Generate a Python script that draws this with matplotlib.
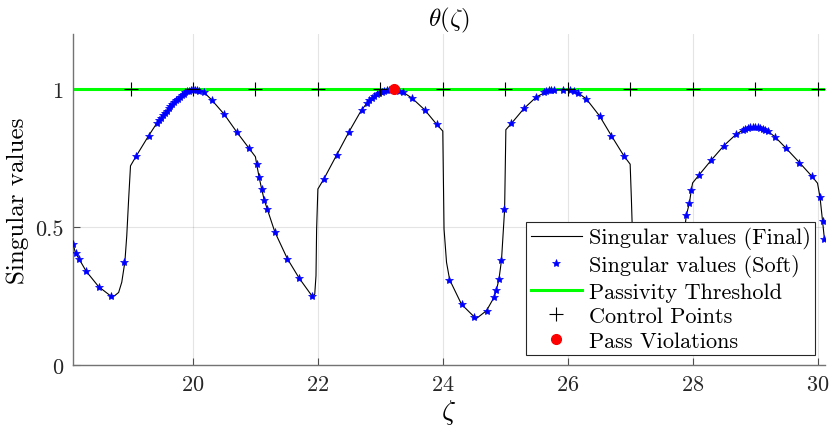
import numpy as np
import matplotlib
matplotlib.use("Agg")
import matplotlib.pyplot as plt

plt.rcParams['font.family'] = 'serif'
plt.rcParams['font.serif'] = ['cmr10']
plt.rcParams['mathtext.fontset'] = 'cm'
plt.rcParams['axes.formatter.use_mathtext'] = True

# final singular values (line)
zeta_final = [18.08, 18.12, 18.17, 18.29, 18.49, 18.69, 18.75, 18.81, 18.86, 18.91, 18.94, 18.97, 19.0,
              19.09, 19.29, 19.42, 19.6, 19.8, 20.0, 20.17, 20.3, 20.5, 20.7, 20.9, 21.0,
              21.02, 21.06, 21.10, 21.14, 21.19, 21.31, 21.51, 21.70, 21.91, 21.95, 21.97, 21.98, 22.0,
              22.10, 22.30, 22.50, 22.70, 22.84, 23.0, 23.22, 23.37, 23.51, 23.71, 23.90, 24.0,
              24.02, 24.06, 24.11, 24.30, 24.51, 24.53, 24.70, 24.82, 24.86, 24.90, 24.94, 24.99, 25.01,
              25.10, 25.30, 25.50, 25.70, 25.90, 26.0, 26.17, 26.30, 26.51, 26.70, 26.90, 27.0,
              27.02, 27.04, 27.10, 27.30, 27.50, 27.70, 27.85, 27.90, 27.95, 27.98, 28.0,
              28.10, 28.30, 28.50, 28.70, 28.85, 28.97, 29.10, 29.20, 29.32, 29.50, 29.71, 29.91, 30.0,
              30.04, 30.08, 30.11]
sv_final = [0.44, 0.405, 0.387, 0.34, 0.284, 0.249, 0.252, 0.263, 0.30, 0.374, 0.468, 0.60, 0.722,
            0.757, 0.831, 0.876, 0.928, 0.974, 0.999, 0.99, 0.961, 0.909, 0.845, 0.785, 0.755,
            0.728, 0.68, 0.638, 0.599, 0.565, 0.483, 0.386, 0.315, 0.249, 0.257, 0.324, 0.493, 0.638,
            0.676, 0.761, 0.846, 0.925, 0.964, 0.99, 1.0, 0.988, 0.967, 0.925, 0.873, 0.848,
            0.493, 0.372, 0.309, 0.22, 0.173, 0.167, 0.197, 0.245, 0.273, 0.312, 0.38, 0.564, 0.853,
            0.876, 0.93, 0.972, 0.995, 0.998, 0.997, 0.986, 0.964, 0.903, 0.831, 0.758, 0.728,
            0.6, 0.45, 0.32, 0.24, 0.21, 0.28, 0.45, 0.543, 0.589, 0.635, 0.66,
            0.688, 0.743, 0.795, 0.837, 0.858, 0.863, 0.858, 0.848, 0.827, 0.785, 0.734, 0.684, 0.659,
            0.608, 0.523, 0.457]

# soft singular values (markers)
zeta_soft = [18.08, 18.12, 18.17, 18.29, 18.49, 18.69, 18.89,
             19.09, 19.29, 19.42, 19.46, 19.49, 19.52, 19.55, 19.58, 19.61, 19.64, 19.67, 19.70,
             19.73, 19.76, 19.79, 19.82, 19.85, 19.88, 19.91, 19.94, 19.97, 20.00, 20.03, 20.06,
             20.10, 20.17, 20.30, 20.50, 20.70, 20.90,
             21.02, 21.06, 21.10, 21.14, 21.19, 21.31, 21.51, 21.70, 21.91,
             22.10, 22.30, 22.50, 22.70, 22.78, 22.82, 22.86, 22.90, 22.94, 22.98, 23.02, 23.06,
             23.10, 23.14, 23.30, 23.37, 23.51, 23.71, 23.90,
             24.10, 24.30, 24.50, 24.70, 24.82, 24.86, 24.90, 24.94, 24.98,
             25.10, 25.30, 25.50, 25.62, 25.66, 25.70, 25.74, 25.78, 25.92, 26.03, 26.10, 26.17,
             26.30, 26.51, 26.70, 26.90,
             27.10, 27.30, 27.50, 27.70, 27.86, 27.90, 27.95, 27.98,
             28.10, 28.30, 28.50, 28.70, 28.80, 28.84, 28.88, 28.92, 28.96, 29.00, 29.04, 29.08,
             29.12, 29.16, 29.20, 29.32, 29.50, 29.71, 29.91, 30.04, 30.08, 30.11]
sv_soft = [0.438, 0.406, 0.386, 0.34, 0.284, 0.249, 0.374,
           0.757, 0.831, 0.876, 0.888, 0.897, 0.905, 0.914, 0.922, 0.930, 0.938, 0.946, 0.953,
           0.960, 0.966, 0.972, 0.978, 0.983, 0.988, 0.992, 0.995, 0.998, 0.999, 0.998, 0.996,
           0.993, 0.988, 0.961, 0.909, 0.845, 0.785,
           0.728, 0.68, 0.638, 0.599, 0.565, 0.483, 0.386, 0.315, 0.249,
           0.676, 0.761, 0.846, 0.925, 0.950, 0.960, 0.968, 0.975, 0.981, 0.986, 0.990, 0.993,
           0.996, 0.998, 0.995, 0.988, 0.967, 0.925, 0.873,
           0.309, 0.22, 0.173, 0.197, 0.245, 0.273, 0.312, 0.38, 0.564,
           0.876, 0.93, 0.972, 0.990, 0.994, 0.996, 0.997, 0.998, 0.998, 0.997, 0.994, 0.986,
           0.964, 0.903, 0.831, 0.758,
           0.32, 0.24, 0.21, 0.28, 0.50, 0.543, 0.589, 0.635,
           0.688, 0.743, 0.795, 0.837, 0.853, 0.857, 0.860, 0.862, 0.863, 0.863, 0.862, 0.860,
           0.857, 0.853, 0.848, 0.827, 0.785, 0.734, 0.684, 0.608, 0.523, 0.457]

threshold = 1.0
control_pts = [19, 20, 21, 22, 23, 24, 25, 26, 27, 28, 29, 30]
viol_zeta = [23.22]
viol_sv = [1.0]

fig = plt.figure(figsize=(8.3, 4.35), dpi=100)
ax = fig.add_axes([0.088, 0.1586, 0.906, 0.761])

ax.plot(zeta_final, sv_final, '-', color='k', lw=0.8, label='Singular values (Final)', zorder=3)
ax.plot(zeta_soft, sv_soft, '*', color='b', ms=6, mew=0.5, label='Singular values (Soft)', zorder=4)
ax.axhline(threshold, color=(0, 1, 0), lw=2.2, label='Passivity Threshold', zorder=2)
ax.plot(control_pts, [threshold] * len(control_pts), '+', color='k', ms=10, mew=0.8,
        label='Control Points', zorder=5)
ax.plot(viol_zeta, viol_sv, 'o', color='r', ms=7, label='Pass Violations', zorder=6)

ax.set_xlim(18.08, 30.12)
ax.set_ylim(0, 1.2)
ax.set_xticks([20, 22, 24, 26, 28, 30])
ax.set_yticks([0, 0.5, 1])
ax.set_yticklabels(['0', '0.5', '1'])
ax.grid(True, color=(0.15, 0.15, 0.15), alpha=0.12, lw=0.8)
ax.set_axisbelow(True)
for s in ['top', 'right']:
    ax.spines[s].set_visible(False)
for s in ['left', 'bottom']:
    ax.spines[s].set_color((0.45, 0.45, 0.45))
    ax.spines[s].set_linewidth(1.0)
ax.tick_params(direction='in', length=5, color=(0.3, 0.3, 0.3), labelsize=16,
               labelcolor=(0.15, 0.15, 0.15), pad=7)

ax.set_title(r'$\theta(\zeta)$', fontsize=18, pad=5)
ax.set_xlabel(r'$\zeta$', fontsize=20, labelpad=2)
ax.set_ylabel('Singular values', fontsize=18, labelpad=4)

leg = ax.legend(loc='lower right', fontsize=16, frameon=True, fancybox=False,
                edgecolor=(0.15, 0.15, 0.15), framealpha=1, handlelength=2.3,
                borderaxespad=0.45, labelspacing=0.22, handletextpad=0.3, borderpad=0.2)
leg.get_frame().set_linewidth(0.8)

fig.savefig('out.png', dpi=100)
